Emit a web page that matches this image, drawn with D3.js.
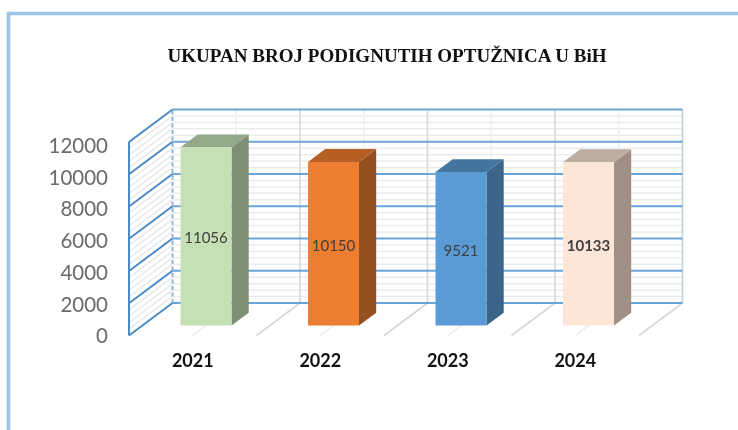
<!DOCTYPE html>
<html><head><meta charset="utf-8">
<script src="https://cdn.jsdelivr.net/npm/d3@7"></script>
<style>html,body{margin:0;padding:0;background:#fff}svg{display:block;filter:blur(0.35px)}</style>
</head><body><div id="chart"></div>
<script>
const title = "UKUPAN BROJ PODIGNUTIH OPTUŽNICA U BiH";
const years = ["2021","2022","2023","2024"];
const values = [11056,10150,9521,10133];
const yTicks = [0,2000,4000,6000,8000,10000,12000];
const minorStep = [400];
const faceColors = ["#C5E0B4","#ED7D31","#5B9BD5","#FDE5D8"];
const topColors = ["#94A98A","#B55F25","#4475A0","#BDACA0"];
const sideColors = ["#7D8F74","#96501F","#3A6589","#A08F84"];
const labelWeights = [400,400,400,700];

const W=738,H=430;
const svg=d3.select("#chart").append("svg").attr("width",W).attr("height",H);
// depth projection of the 3D box
const depthX=43.5, depthY=-32.5;
const x=d3.scaleBand().domain(years).range([129,639]);
const y=d3.scaleLinear().domain([0,12000]).range([335.5,142]);
const yLabel=d3.scaleLinear().domain([0,12000]).range([335.5,145]);
const P=(xv,v,d)=>[xv+depthX*d, y(v)+depthY*d];
const path=pts=>d3.line()(pts)+"Z";
const seg=(g,a,b,col,w,dash,op)=>g.append("line").attr("x1",a[0]).attr("y1",a[1]).attr("x2",b[0]).attr("y2",b[1])
  .attr("stroke",col).attr("stroke-width",w).attr("stroke-dasharray",dash||null).attr("opacity",op==null?1:op);

// frame
svg.append("path").attr("d",`M8.5,${H}V13.5H${W}`).attr("fill","none").attr("stroke","#9DC3E6").attr("stroke-width",3.6);

// title
svg.append("text").attr("x",387).attr("y",62).attr("text-anchor","middle")
  .attr("font-family","Liberation Serif").attr("font-weight",700).attr("font-size",18.8)
  .attr("textLength",439).attr("lengthAdjust","spacingAndGlyphs").attr("fill","#111").text(title);

const grid=svg.append("g");
const x0=x.range()[0], x1=x.range()[1];
const maxV=12000;
// minor horizontal gridlines, wall and side
d3.range(0,maxV+1,minorStep[0]).filter(v=>v%2000!==0).forEach(v=>{
  seg(grid,P(x0,v,1),P(x1,v,1),"#EBEBEB",1.5);
  seg(grid,P(x0,v,0),P(x0,v,1),"#E3E6EA",1.3);
});
// vertical gridlines on the back wall + floor lines
const bw=x.bandwidth();
years.forEach((c,i)=>{
  const mid=x(c)+bw/2, end=x(c)+bw;
  seg(grid,P(mid,0,1),P(mid,maxV,1),"#EFEFEF",1.5);
  seg(grid,P(end,0,1),P(end,maxV,1),i===3?"#C4D3E3":"#DADADA",1.7);
  seg(grid,P(mid,0,0),P(mid,0,1),"#E9E9E9",1.4);
  seg(grid,P(end,0,0),P(end,0,1),"#D6D6D6",1.6);
});
// major gridlines
yTicks.forEach(v=>{
  seg(grid,P(x0,v,1),P(x1,v,1),"#5B9BD5",2,null,.9);
  seg(grid,P(x0,v,0),P(x0,v,1),"#4A8AC6",2);
});
seg(grid,P(x0,0,0),P(x0,maxV,0),"#4A8AC6",2);
seg(grid,P(x0,0,1),P(x0,maxV,1),"#8FB4D9",2,"4 2.5");

// axis labels
const yAxis=d3.axisLeft(yLabel).tickValues(yTicks).tickSize(0).tickPadding(21).tickFormat(d3.format("d"));
svg.append("g").attr("transform",`translate(${x0},0)`).call(yAxis)
 .call(g=>g.select(".domain").remove())
 .call(g=>g.selectAll("text").attr("font-family","Lato").attr("font-size",20.5).attr("fill","#6B6B6B").attr("dy","0.36em"));
const xAxis=d3.axisBottom(x).tickSize(0).tickPadding(0);
svg.append("g").attr("transform","translate(0,353)").call(xAxis)
 .call(g=>g.select(".domain").remove())
 .call(g=>g.selectAll("text").attr("font-family","Lato").attr("font-weight",700).attr("font-size",18).attr("fill","#111").attr("dy","0.75em"));

// bars
const dFront=.305,dBack=.70,barW=.4;
const bars=svg.append("g");
years.forEach((c,i)=>{
  const v=values[i];
  const l=x(c)+bw*(.5-barW/2), r=x(c)+bw*(.5+barW/2);
  const g=bars.append("g");
  g.append("path").attr("d",path([P(r,0,dFront),P(r,v,dFront),P(r,v,dBack),P(r,0,dBack)])).attr("fill",sideColors[i]);
  g.append("path").attr("d",path([P(l,v,dFront),P(r,v,dFront),P(r,v,dBack),P(l,v,dBack)])).attr("fill",topColors[i]);
  g.append("path").attr("d",path([P(l,0,dFront),P(r,0,dFront),P(r,v,dFront),P(l,v,dFront)])).attr("fill",faceColors[i]);
  const c0=P((l+r)/2,v/2,dFront);
  g.append("text").attr("x",c0[0]).attr("y",c0[1]+1.5).attr("dy","0.35em").attr("text-anchor","middle")
   .attr("font-family","Lato").attr("font-size",15).attr("font-weight",labelWeights[i]).attr("fill","#404040").text(v);
});
</script></body></html>
